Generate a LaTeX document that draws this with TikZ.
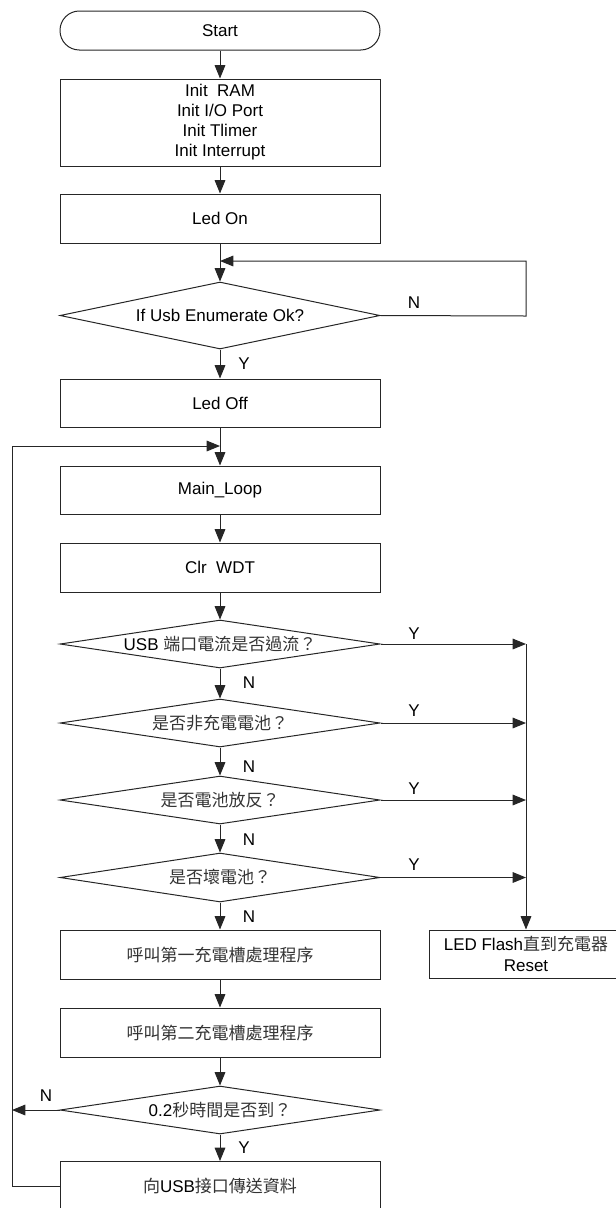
\documentclass[tikz,border=0pt]{standalone}
\usepackage{fontspec}
\setmainfont{Liberation Sans}
\newfontfamily\cjk{Noto Sans CJK TC}
\usetikzlibrary{shapes.geometric,arrows.meta}
\newcommand{\zh}[1]{{\cjk\color{black!80}#1}}
\begin{document}
\begin{tikzpicture}[x=0.75pt,y=-0.75pt,
  font=\fontsize{12.75}{15}\selectfont,
  line width=0.75pt,
  box/.style={draw=black!85,minimum width=240pt,minimum height=36.75pt,inner sep=0pt,align=center},
  term/.style={draw=black!85,minimum width=240pt,minimum height=29.25pt,inner sep=0pt,rounded corners=14.5pt},
  dec/.style={draw=black!85,diamond,minimum width=240pt,minimum height=36pt,inner sep=0pt,aspect=6.67},
  arr/.style={draw=black!85,-{Triangle[length=10pt,width=8pt]}},
  lab/.style={inner sep=0pt}]
\useasboundingbox (0,0) rectangle (616,1208);

\node[term] (start) at (220,30.5) {Start};
\node[box,minimum height=65.25pt,font=\fontsize{12.75}{15}\selectfont] (init) at (220,122.5) {Init~~RAM\\Init I/O Port\\Init Tlimer\\Init Interrupt};
\node[box] (ledon) at (220,218.5) {Led On};
\node[dec,minimum height=50.25pt,aspect=4.78] (enum) at (220,315.5) {If Usb Enumerate Ok?};
\node[box,minimum height=36pt] (ledoff) at (220,403) {Led Off};
\node[box,minimum height=36pt] (main) at (220,490) {Main\_Loop};
\node[box] (wdt) at (220,567.5) {Clr~~WDT};
\node[dec] (usb) at (220,644) {USB \zh{端口電流是否過流？}};
\node[dec] (nonchg) at (220,723) {\zh{是否非充電電池？}};
\node[dec] (rev) at (220,800) {\zh{是否電池放反？}};
\node[dec,minimum height=36.75pt] (bad) at (220,877.5) {\zh{是否壞電池？}};
\node[box] (slot1) at (220,954.5) {\zh{呼叫第一充電槽處理程序}};
\node[box] (slot2) at (220,1032.5) {\zh{呼叫第二充電槽處理程序}};
\node[dec] (time) at (220,1110) {0.2\zh{秒時間是否到？}};
\node[box] (send) at (220,1186) {\zh{向}USB\zh{接口傳送資料}};
\node[box,minimum width=145.5pt,minimum height=36pt,font=\fontsize{12.75}{15.75}\selectfont] (flash) at (526,954) {LED Flash\zh{直到充電器}\\Reset};

\coordinate (m1) at (220,261);
\coordinate (m2) at (220,446);
\coordinate (r1) at (526,316);
\coordinate (c1) at (526,644);
\coordinate (c2) at (526,723);
\coordinate (c3) at (526,800);
\coordinate (c4) at (526,877.5);
\coordinate (l1) at (12,1186);
\coordinate (l2) at (12,446);
\coordinate (l3) at (12,1110);

\draw[arr] (start) -- (init);
\draw[arr] (init) -- (ledon);
\draw[arr] (ledon) -- (enum);
\draw[arr] (enum.east) -- (r1) -- (526,261) -- (m1);
\draw[arr] (enum) -- (ledoff);
\draw[arr] (ledoff) -- (main);
\draw[arr] (send.west) -- (l1) -- (l2) -- (m2);
\draw[arr] (main) -- (wdt);
\draw[arr] (wdt) -- (usb);
\draw[arr] (usb) -- (nonchg);
\draw[arr] (nonchg) -- (rev);
\draw[arr] (rev) -- (bad);
\draw[arr] (bad) -- (slot1);
\draw[arr] (slot1) -- (slot2);
\draw[arr] (slot2) -- (time);
\draw[arr] (time) -- (send);
\draw[arr] (time.west) -- (l3);
\draw[arr] (usb.east) -- (c1);
\draw[arr] (nonchg.east) -- (c2);
\draw[arr] (rev.east) -- (c3);
\draw[arr] (bad.east) -- (c4);
\draw[arr] (c1) -- (flash.north);

\node[lab] (nE) at (414,303) {N};
\node[lab] (yE) at (244,364) {Y};
\node[lab] (y1) at (414,634) {Y};
\node[lab] (y2) at (414,711) {Y};
\node[lab] (y3) at (414,789) {Y};
\node[lab] (y4) at (414,865) {Y};
\node[lab] (n1) at (249,683) {N};
\node[lab] (n2) at (249,767) {N};
\node[lab] (n3) at (249,840) {N};
\node[lab] (n4) at (249,917) {N};
\node[lab] (nT) at (46,1096) {N};
\node[lab] (yT) at (244,1148) {Y};
\end{tikzpicture}
\end{document}
